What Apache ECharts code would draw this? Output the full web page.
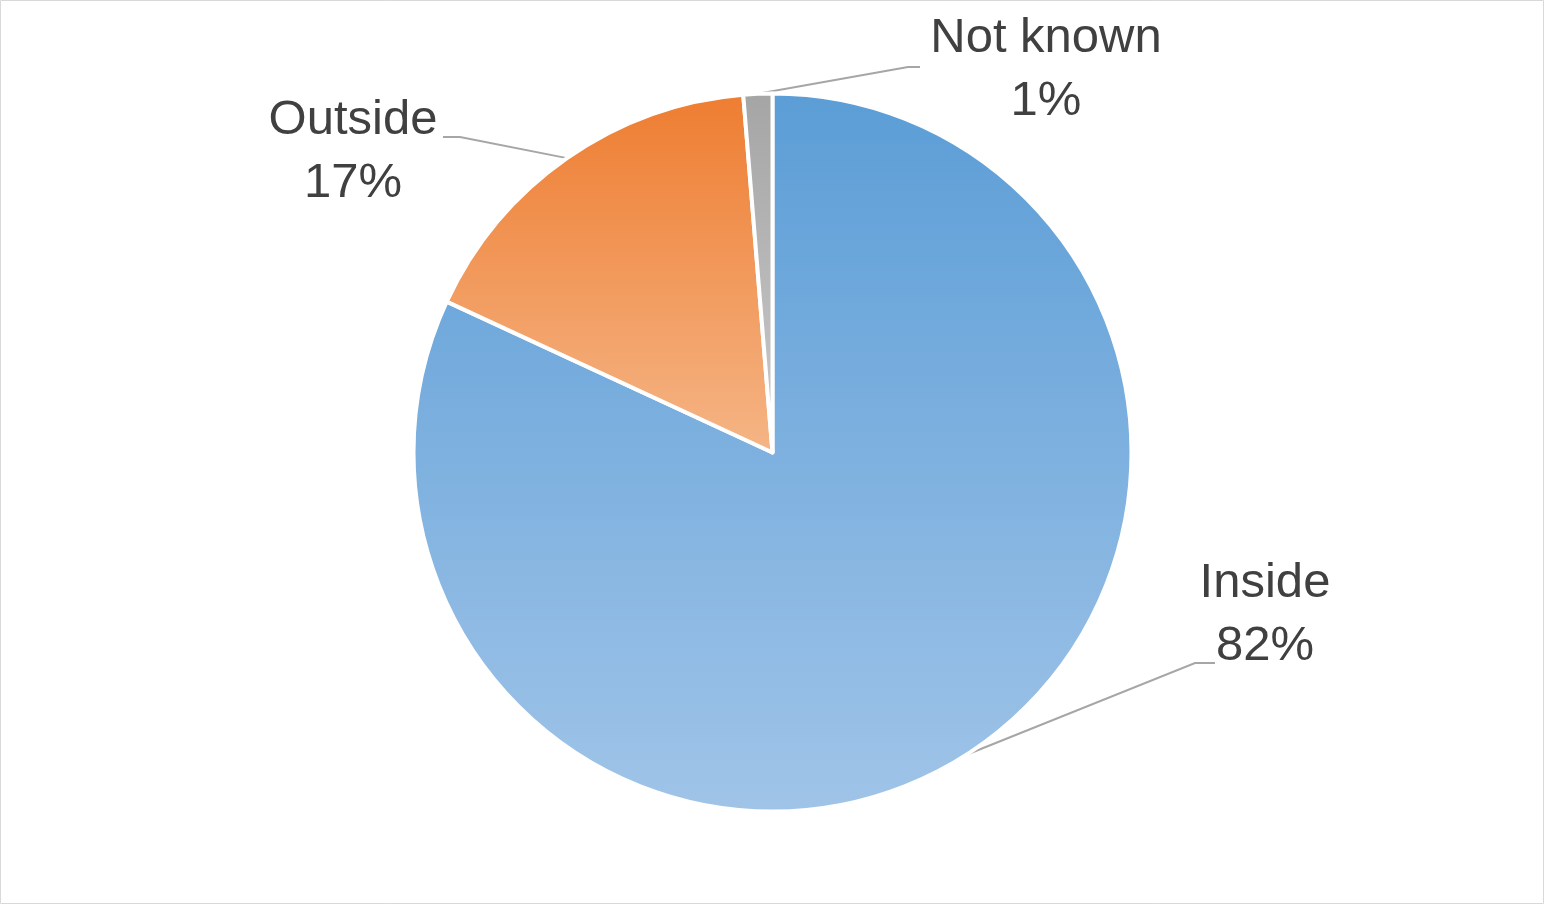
<!DOCTYPE html>
<html>
<head>
<meta charset="utf-8">
<script src="https://cdn.jsdelivr.net/npm/echarts@6/dist/echarts.min.js"></script>
<style>
html,body{margin:0;padding:0;background:#fff;}
#chart{width:1545px;height:905px;}
</style>
</head>
<body>
<div id="chart"></div>
<script>
const categories = ['Inside', 'Outside', 'Not known'];
const values = [81.9, 16.8, 1.3];
const topColors = ['#5B9DD6', '#EE7D31', '#A5A5A5'];
const bottomColors = ['#A0C4E8', '#F5B586', '#CACACA'];

// label layout targets (positions only)
const labelPos = [
  {x: 1265, y: 615, elbow: [1195, 663], end: [1215, 663]},
  {x: 353, y: 152, elbow: [460, 137], end: [443, 137]},
  {x: 1046, y: 70, elbow: [908, 67], end: [920, 67]}
];

const chart = echarts.init(document.getElementById('chart'), null, {renderer: 'canvas'});

const data = categories.map((c, i) => ({
  name: c,
  value: values[i],
  itemStyle: {
    color: {
      type: 'linear', x: 0, y: 0, x2: 0, y2: 1,
      colorStops: [{offset: 0, color: topColors[i]}, {offset: 1, color: bottomColors[i]}]
    }
  }
}));

chart.setOption({
  animation: false,
  backgroundColor: '#ffffff',
  graphic: [{
    type: 'rect',
    shape: {x: 0.5, y: 0.5, width: 1543, height: 903},
    style: {fill: 'none', stroke: '#D9D9D9', lineWidth: 1},
    silent: true
  }],
  series: [{
    type: 'pie',
    center: ['50%', '50%'],
    radius: 359,
    startAngle: 90,
    clockwise: true,
    data: data,
    itemStyle: {borderColor: '#ffffff', borderWidth: 4, borderJoin: 'round'},
    label: {
      show: true,
      position: 'outside',
      formatter: p => p.name + '\n' + Math.round(p.percent) + '%',
      fontFamily: 'Liberation Sans',
      fontSize: 49,
      lineHeight: 63,
      color: '#404040',
      align: 'center'
    },
    labelLine: {
      show: true,
      length: 30,
      length2: 20,
      smooth: false,
      lineStyle: {color: '#A6A6A6', width: 2}
    },
    labelLayout: function (params) {
      const lp = labelPos[params.dataIndex];
      const p0 = params.labelLinePoints ? params.labelLinePoints[0] : lp.elbow;
      return {
        x: lp.x,
        y: lp.y,
        align: 'center',
        verticalAlign: 'middle',
        labelLinePoints: [p0, lp.elbow, lp.end]
      };
    }
  }]
});
</script>
</body>
</html>
